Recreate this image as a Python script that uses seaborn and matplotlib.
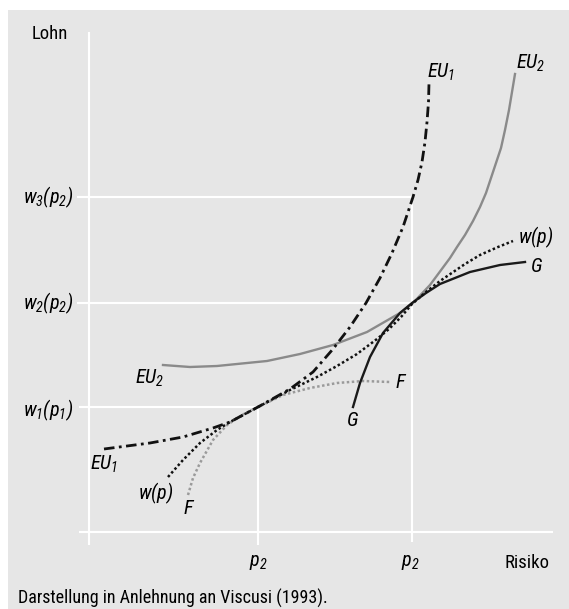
import matplotlib
matplotlib.use("Agg")
import matplotlib.pyplot as plt
import matplotlib.font_manager as fm
import seaborn as sns
import pandas as pd

# risk / wage values (origin = axis crossing)
eu1_r = [15, 61, 94, 124, 141, 169, 201, 224, 244, 261, 277, 291, 303, 314, 324, 329, 333, 336, 338, 339.5, 340]
eu1_w = [83, 89, 95, 104, 110, 125, 143, 160, 183, 205, 229, 254, 279, 305, 335, 352, 370, 390, 410, 430, 449]

eu2_r = [74, 101, 128, 178, 211, 244, 278, 311, 324, 341, 361, 368, 376, 384, 391, 397, 402, 407, 412, 416, 420, 423, 426]
eu2_w = [167, 165, 166, 171, 178, 187, 200, 219, 229, 247, 274, 285, 297, 311, 325, 339, 354, 369, 384, 402, 422, 440, 458]

wp_r = [79, 94, 111, 128, 141, 169, 201, 228, 248, 268, 288, 300, 312, 323, 337, 351, 376, 391, 409, 424]
wp_w = [55, 72, 89, 102, 110, 125, 142, 155, 166, 178, 193, 203, 215, 228, 240, 251, 268, 277, 285, 291]

f_r = [99, 104, 111, 124, 138, 153, 169, 194, 221, 248, 274, 301]
f_w = [37, 54, 69, 92, 107, 117, 125, 137, 144, 149, 151, 150]

g_r = [264, 271, 281, 294, 311, 323, 337, 351, 381, 411, 436]
g_w = [125, 149, 175, 199, 219, 229, 239, 248, 260, 267, 270]

# reference levels
p1, p2 = 169, 323
w1, w2, w3 = 125, 229, 335
risk_max, wage_max = 464, 500

# pick a condensed sans that has a static regular and italic face
font = "DejaVu Sans"
for cand in ["Liberation Sans Narrow", "Roboto Condensed", "Fira Sans Condensed"]:
    faces = [f for f in fm.fontManager.ttflist if f.name == cand and "[" not in f.fname]
    if any(f.style == "normal" for f in faces) and any(f.style == "italic" for f in faces):
        font = cand
        break

plt.rcParams["font.family"] = [font, "DejaVu Sans"]
plt.rcParams["mathtext.fontset"] = "custom"
plt.rcParams["mathtext.rm"] = font + ":italic"
plt.rcParams["mathtext.it"] = font + ":italic"

fig = plt.figure(figsize=(5.69, 6.09), dpi=100)
fig.patch.set_facecolor("white")
ax = fig.add_axes([8 / 569, 0, 561 / 569, 599.5 / 609])
ax.set_facecolor("#e6e6e6")
ax.set_xlim(-81, 480)
ax.set_ylim(-77, 522.5)
ax.set_xticks([])
ax.set_yticks([])
for s in ax.spines.values():
    s.set_visible(False)

# white frame lines
wl = dict(color="white", lw=1.5, solid_capstyle="butt")
ax.plot([0, 0], [-13, wage_max], **wl)
ax.plot([-10, risk_max], [0, 0], **wl)
ax.plot([-12, p2], [w3, w3], **wl)
ax.plot([-12, p2], [w2, w2], **wl)
ax.plot([-10, p1], [w1, w1], **wl)
ax.plot([p1, p1], [-13, w1], **wl)
ax.plot([p2, p2], [-10, w3], **wl)

def curve(r, w, color, lw, dashes=None):
    df = pd.DataFrame({"r": r, "w": w})
    sns.lineplot(data=df, x="r", y="w", ax=ax, color=color, lw=lw,
                 sort=False, estimator=None)
    line = ax.lines[-1]
    line.set_solid_joinstyle("round")
    if dashes is not None:
        line.set_dashes(dashes)
        line.set_dash_capstyle("butt")

curve(f_r, f_w, "#9a9a9a", 1.8, (1, 1))
curve(eu2_r, eu2_w, "#8a8a8a", 1.7)
curve(g_r, g_w, "#1a1a1a", 1.7)
curve(wp_r, wp_w, "#111111", 1.8, (1, 1))
curve(eu1_r, eu1_w, "#111111", 2.0, (3.8, 1.6, 1.0, 1.6))
ax.set_xlabel("")
ax.set_ylabel("")

fs = 13.5   # upright text
fi = 14.5   # italic labels
ax.text(-39, 498, "Lohn", fontsize=fs, ha="center", va="center")
ax.text(-16, w3, r"$w_3(p_2)$", fontsize=fi, ha="right", va="center")
ax.text(-16, w2, r"$w_2(p_2)$", fontsize=fi, ha="right", va="center")
ax.text(-16, w1 - 3, r"$w_1(p_1)$", fontsize=fi, ha="right", va="center")
ax.text(p1, -31, r"$p_2$", fontsize=fi, ha="center", va="center")
ax.text(p2 - 2, -31, r"$p_2$", fontsize=fi, ha="center", va="center")
ax.text(438, -31, "Risiko", fontsize=fs, ha="center", va="center")
ax.text(-71, -66, "Darstellung in Anlehnung an Viscusi (1993).", fontsize=13,
        ha="left", va="center")

ax.text(338, 460, r"$EU_1$", fontsize=fi, ha="left", va="center")
ax.text(427, 469, r"$EU_2$", fontsize=fi, ha="left", va="center")
ax.text(429, 295, r"$w(p)$", fontsize=fi, ha="left", va="center")
ax.text(441, 266, r"$G$", fontsize=fi, ha="left", va="center")
ax.text(306, 149, r"$F$", fontsize=fi, ha="left", va="center")
ax.text(263, 111, r"$G$", fontsize=fi, ha="center", va="center")
ax.text(61, 154, r"$EU_2$", fontsize=fi, ha="center", va="center")
ax.text(15, 68, r"$EU_1$", fontsize=fi, ha="center", va="center")
ax.text(67, 39, r"$w(p)$", fontsize=fi, ha="center", va="center")
ax.text(100, 24, r"$F$", fontsize=fi, ha="center", va="center")

fig.savefig("out.png", dpi=100)
